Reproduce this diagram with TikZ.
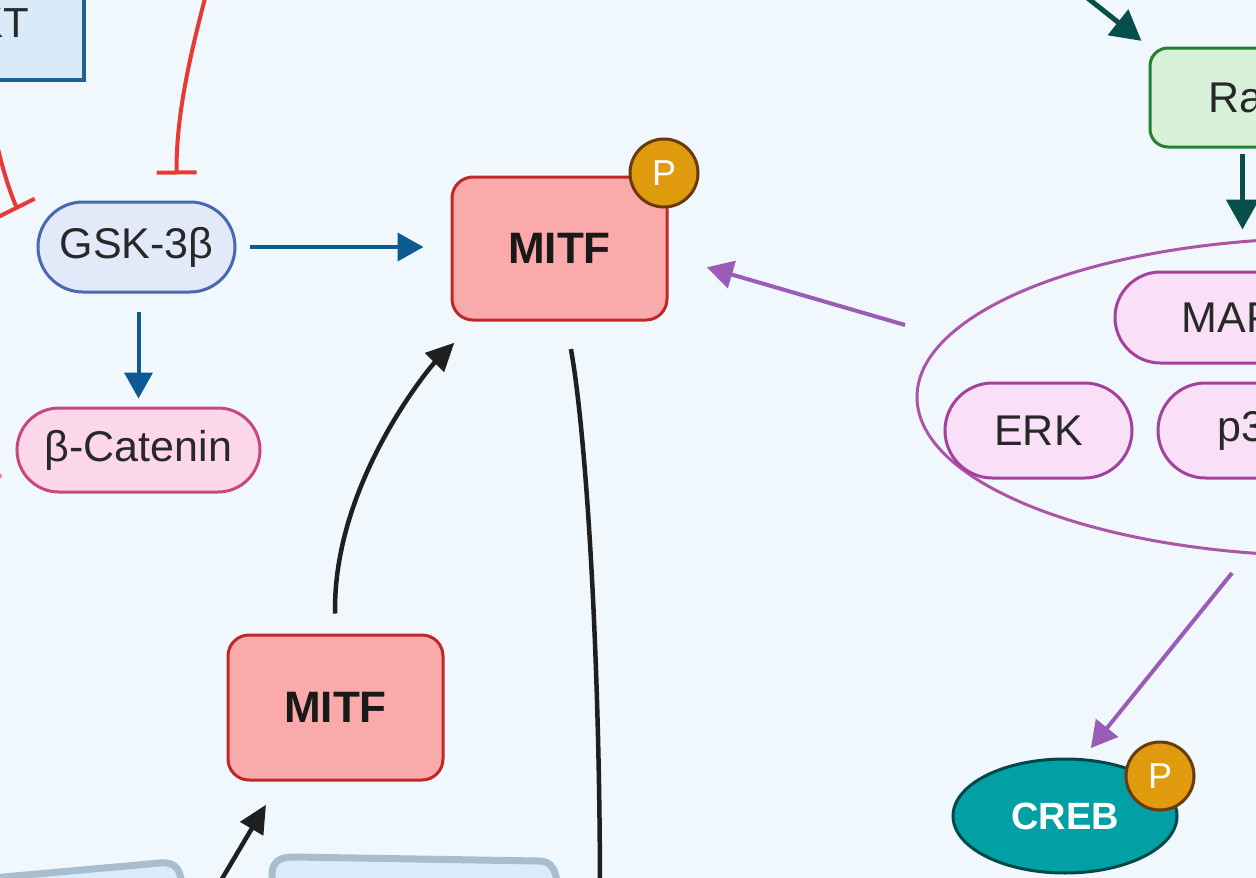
\documentclass[tikz,border=0pt]{standalone}
\usepackage{fontspec}
\setmainfont{Liberation Sans}
\usetikzlibrary{shapes.misc,shapes.geometric,arrows.meta}

\definecolor{bgcol}{RGB}{240,247,253}
\definecolor{aktfill}{RGB}{217,235,248}
\definecolor{aktline}{RGB}{28,98,140}
\definecolor{inhred}{RGB}{232,58,52}
\definecolor{gskfill}{RGB}{226,233,249}
\definecolor{gskline}{RGB}{72,104,178}
\definecolor{actblue}{RGB}{12,90,145}
\definecolor{catfill}{RGB}{252,215,234}
\definecolor{catline}{RGB}{198,72,126}
\definecolor{mitffill}{RGB}{251,170,171}
\definecolor{mitfline}{RGB}{192,40,40}
\definecolor{pfill}{RGB}{224,154,14}
\definecolor{pline}{RGB}{105,58,12}
\definecolor{mapkfill}{RGB}{249,223,248}
\definecolor{mapkline}{RGB}{162,66,156}
\definecolor{actpurple}{RGB}{155,92,184}
\definecolor{rasfill}{RGB}{215,242,216}
\definecolor{rasline}{RGB}{38,128,48}
\definecolor{actteal}{RGB}{8,78,74}
\definecolor{crebfill}{RGB}{0,160,164}
\definecolor{crebline}{RGB}{0,72,74}
\definecolor{memline}{RGB}{168,189,205}
\definecolor{memfill}{RGB}{218,236,250}
\definecolor{txt}{RGB}{40,40,40}

\begin{document}
\begin{tikzpicture}[x=1pt,y=-1pt,
% Boxes and symbols style
    pill/.style={rounded rectangle,draw,line width=3pt,inner sep=0pt,
        minimum height=92pt,text=txt,font=\fontsize{43}{48}\selectfont},
    gskbox/.style={pill,fill=gskfill,draw=gskline},
    catbox/.style={pill,fill=catfill,draw=catline},
    kin/.style={pill,fill=mapkfill,draw=mapkline,minimum height=95pt},
    aktbox/.style={rectangle,draw=aktline,fill=aktfill,line width=4pt,
        minimum width=192pt,minimum height=114pt,text=txt,
        font=\fontsize{42}{46}\selectfont},
    rasbox/.style={rectangle,rounded corners=18pt,draw=rasline,fill=rasfill,
        line width=3pt,minimum width=194pt,minimum height=99pt,text=txt,
        font=\fontsize{43}{48}\selectfont},
    mitfbox/.style={rectangle,rounded corners=21pt,draw=mitfline,
        fill=mitffill,line width=3pt,minimum width=215pt,
        minimum height=143pt,text=black!90,
        font=\fontsize{44}{48}\selectfont\bfseries},
    crebbox/.style={ellipse,draw=crebline,fill=crebfill,line width=3pt,
        minimum width=224pt,minimum height=114pt,inner sep=0pt,text=white,
        font=\fontsize{38}{42}\selectfont\bfseries},
    phos/.style={circle,draw=pline,fill=pfill,line width=3pt,
        minimum size=68pt,inner sep=0pt,text=white,
        font=\fontsize{36}{40}\selectfont},
    grp/.style={ellipse,draw=mapkline!90,line width=3pt,inner sep=0pt,
        minimum width=830pt,minimum height=318pt},
    mem/.style={draw=memline,fill=memfill,line width=7pt},
% Connector style
    blu/.style={line width=4pt,draw=actblue,
        -{Triangle[length=26pt,width=28pt]}},
    pur/.style={line width=4pt,draw=actpurple,
        -{Triangle[length=26pt,width=28pt]}},
    tea/.style={line width=5pt,draw=actteal,
        -{Triangle[length=30pt,width=32pt]}},
    blkline/.style={line width=4.5pt,draw=black!88},
    blk/.style={blkline,-{Triangle[length=28pt,width=26pt]}},
    inh/.style={line width=4pt,draw=inhred,
        -{Bar[width=40pt,line width=4pt]}}
    ]
    \useasboundingbox (0,0) rectangle (1256,878);
    \clip (0,0) rectangle (1256,878);
    \fill[bgcol] (0,0) rectangle (1256,878);

%% Draw cut-off shapes at the bottom
    \filldraw[mem] (-30,900) -- (-30,880) -- (160,863)
        .. controls (177,862) and (182,868) .. (183,900) -- cycle;
    \filldraw[mem] (272,900) -- (272,875)
        .. controls (272,862) and (279,857) .. (294,857) -- (538,861)
        .. controls (551,861) and (558,867) .. (558,900) -- cycle;

%% Draw nodes
    \node (akt) [aktbox] at (-12,23) {AKT};
    \node (gsk) [gskbox,minimum width=197pt,minimum height=90pt]
        at (136.5,247) {GSK-3β};
    \node (cat) [catbox,minimum width=243pt,minimum height=84pt]
        at (138.5,450) {β-Catenin};
    \node (mitf) [mitfbox] at (559.5,248.5) {MITF};
    \node (mitf2) [mitfbox,minimum height=145pt] at (335.5,707.5) {MITF};
    \node (ras) [rasbox] at (1247,97.5) {Ras};
    \node (grp) [grp] at (1332,397) {};
    \node (mapk) [kin,minimum width=255pt,minimum height=91pt]
        at (1242.5,317.5) {MAPK};
    \node (erk) [kin,minimum width=187pt] at (1038.5,430.5) {ERK};
    \node (p38) [kin,minimum width=191pt] at (1253.5,430.5) {p38};
    \node (creb) [crebbox] at (1065,816) {CREB};

%% Free ends
    \coordinate (redtop) at (210,-20);
    \coordinate (redleft) at (-6,130);
    \coordinate (tealin) at (1075,-12);
    \coordinate (grpout) at (905,325);
    \coordinate (grpdown) at (1232,573);
    \coordinate (mitfout) at (600,900);
    \coordinate (mitflow) at (210,899);

%% Draw edges
    \draw[inh,shorten >=26pt] (redtop)
        .. controls (188,60) and (176,120) .. (gsk.49);
    \draw[inh,shorten >=42pt] (redleft)
        .. controls (2,172) and (14,202) .. (gsk.west);
    \fill[inhred!60] (-1,476) circle (3pt);
    \draw[blu,shorten <=13pt,shorten >=27pt] (gsk.east) -- (gsk.east -| mitf.west);
    \draw[blu,shorten <=18pt,shorten >=8pt] (cat.north |- gsk.south) -- (cat.north);
    \draw[pur,shorten >=40pt] (grpout) -- (mitf.-4.5);
    \draw[pur,shorten >=13pt] (grpdown) -- (creb.73);
    \draw[tea,shorten >=9pt] (tealin) -- (ras.north west);
    \draw[tea,shorten <=5pt,shorten >=7pt] (ras.south -| mapk.north)
        -- (mapk.north |- grp.north);
    \draw[blk,shorten <=20pt,shorten >=30pt] (mitf2.north)
        .. controls +(-3,-150) and +(-45,45) .. (mitf.-139);
    \draw[blkline,shorten <=28pt] (mitf.-85)
        .. controls +(20,110) and +(0,-250) .. (mitfout);
    \draw[blk,shorten >=27pt] (mitflow) -- (mitf2.-127.7);

%% Phosphate tags
    \node (mitfp) [phos] at (664,173) {P};
    \node (crebp) [phos] at (1160,776) {P};

\end{tikzpicture}
\end{document}
